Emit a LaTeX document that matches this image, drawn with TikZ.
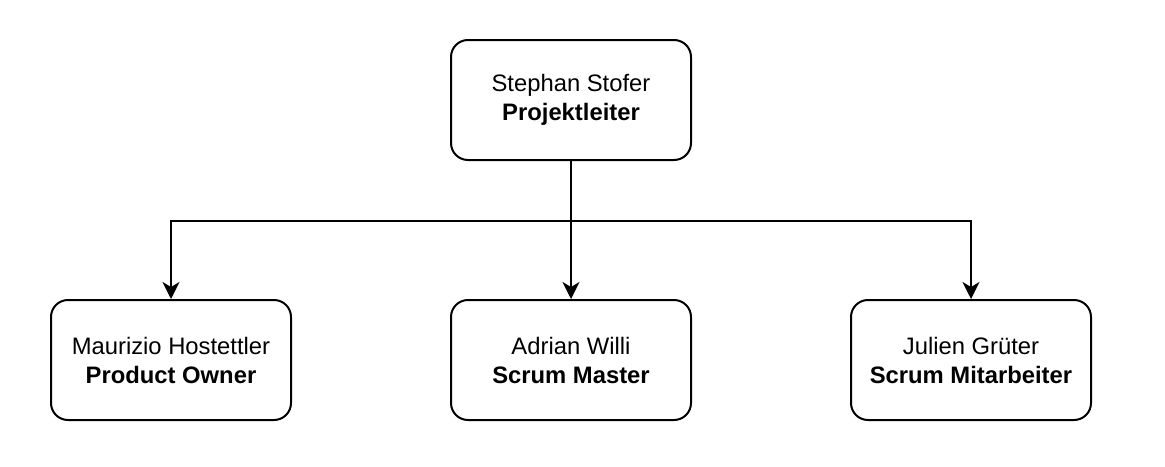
\documentclass[tikz,border=0pt]{standalone}
\usepackage{fontspec}
\setmainfont{Liberation Sans}
\usetikzlibrary{arrows.meta}
\begin{document}
\begin{tikzpicture}[x=1pt,y=-1pt,
  person/.style={draw=black, line width=2pt, rounded corners=17pt, minimum width=240pt, minimum height=120pt, align=center, inner sep=0pt, font=\fontsize{23.8}{29}\selectfont},
  conn/.style={draw=black, line width=2pt, -{Stealth[length=17pt, width=17pt, inset=5pt]}}]
\useasboundingbox (0,0) rectangle (1165,466);
\node[person] (pl) at (571,100) {Stephan Stofer\\\textbf{Projektleiter}};
\node[person] (po) at (171,360) {Maurizio Hostettler\\\textbf{Product Owner}};
\node[person] (sm) at (571,360) {Adrian Willi\\\textbf{Scrum Master}};
\node[person] (sa) at (971,360) {Julien Grüter\\\textbf{Scrum Mitarbeiter}};
\draw[conn] (pl.south) -- ++(0,60) -| (po.north);
\draw[conn] (pl.south) -- (sm.north);
\draw[conn] (pl.south) -- ++(0,60) -| (sa.north);
\end{tikzpicture}
\end{document}
